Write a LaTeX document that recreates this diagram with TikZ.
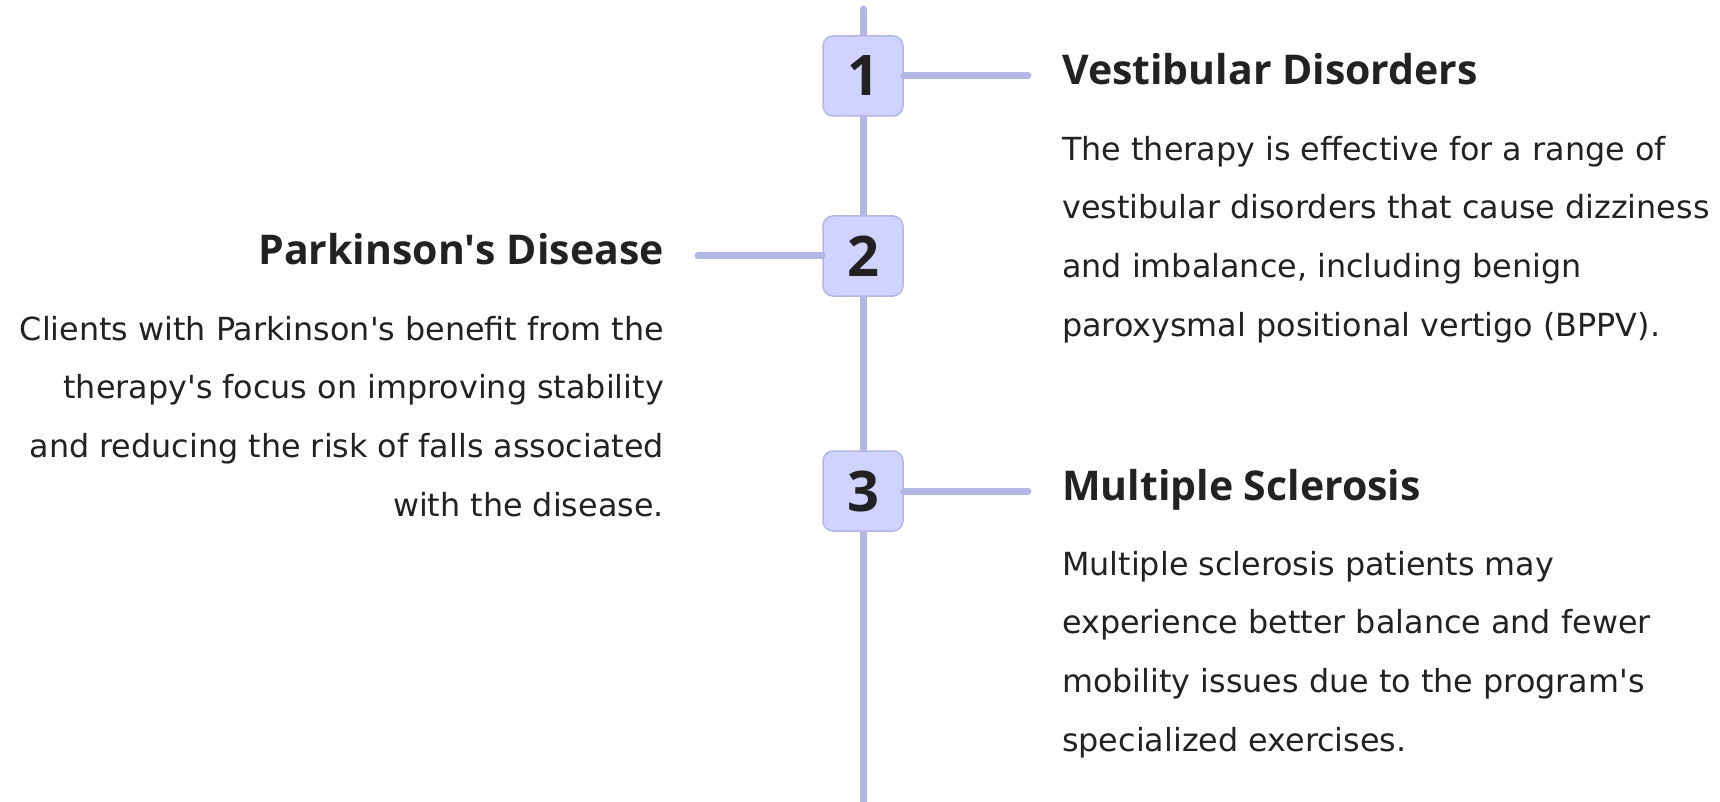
\documentclass[tikz,border=0pt]{standalone}
\usepackage{fontspec}
\setmainfont{Open Sans}
\newfontfamily\bodyfont{DejaVu Sans}
\newcommand{\apos}{\textquotesingle}
\usetikzlibrary{positioning,calc}
\definecolor{spine}{HTML}{B4B6E6}
\definecolor{boxfill}{HTML}{D0D2FF}
\definecolor{ink}{HTML}{222222}
\tikzset{
	numbox/.style={draw=spine, line width=1.5pt, fill=boxfill, rounded corners=10pt,
		minimum size=80pt, inner sep=0pt, text=ink, font=\fontsize{56}{60}\selectfont\bfseries},
	link/.style={spine, line width=7pt, line cap=round},
	head/.style={inner sep=0pt, text=ink, font=\fontsize{41}{48}\selectfont\bfseries},
	body/.style={inner sep=0pt, text=ink, font=\bodyfont\fontsize{31.8}{58.6}\selectfont},
}

\begin{document}
\begin{tikzpicture}[x=1pt, y=-1pt]
	\useasboundingbox (0, 0) rectangle (1720, 802);
	\coordinate (top) at (863, 9);
	\coordinate (bot) at (863, 810);
	\draw[link] (top) -- (bot);

	\node[numbox] (n1) at (863, 76) {1};
	\node[numbox] (n2) at (863, 256) {2};
	\node[numbox] (n3) at (863, 491) {3};

	\coordinate (e1) at (1028, 76);
	\coordinate (e2) at (698, 256);
	\coordinate (e3) at (1028, 491);
	\draw[link] (n1.east) -- (e1);
	\draw[link] (n2.west) -- (e2);
	\draw[link] (n3.east) -- (e3);

	% base anchor of a multi-line node sits on its last line
	\node[head, anchor=base west] (h1) at (1062, 85) {Vestibular Disorders};
	\node[body, anchor=base west, align=left] (b1) at (1062, 336)
		{The therapy is effective for a range of\\
		vestibular disorders that cause dizziness\\
		and imbalance, including benign\\
		paroxysmal positional vertigo (BPPV).};

	\node[head, anchor=base east] (h2) at (664, 265) {Parkinson\apos s Disease};
	\node[body, anchor=base east, align=right] (b2) at (664, 516)
		{Clients with Parkinson\apos s benefit from the\\
		therapy\apos s focus on improving stability\\
		and reducing the risk of falls associated\\
		with the disease.};

	\node[head, anchor=base west] (h3) at (1062, 500) {Multiple Sclerosis};
	\node[body, anchor=base west, align=left] (b3) at (1062, 751)
		{Multiple sclerosis patients may\\
		experience better balance and fewer\\
		mobility issues due to the program\apos s\\
		specialized exercises.};
\end{tikzpicture}
\end{document}
